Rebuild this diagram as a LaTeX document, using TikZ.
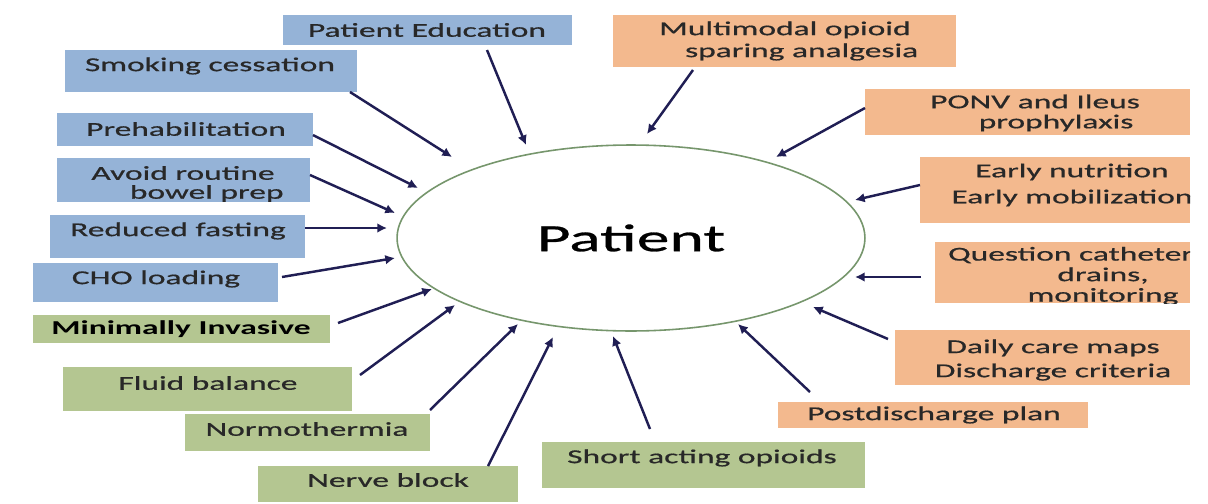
\documentclass[tikz,border=0pt]{standalone}
\usepackage{fontspec}
\setmainfont{Carlito}[FakeStretch=1.7, UprightFeatures={FakeBold=0.7}]
\usetikzlibrary{shapes.geometric,arrows.meta,fit}
\definecolor{bluefill}{RGB}{149,179,215}
\definecolor{greenfill}{RGB}{180,198,145}
\definecolor{orangefill}{RGB}{243,185,142}
\definecolor{arrowcol}{RGB}{32,30,84}
\definecolor{ringcol}{RGB}{118,150,108}
\definecolor{txtcol}{RGB}{40,40,40}
\tikzset{
  bx/.style={inner sep=0pt, outer sep=0pt, draw=none},
  bbox/.style={bx, fill=bluefill},
  gbox/.style={bx, fill=greenfill},
  obox/.style={bx, fill=orangefill},
  lbl/.style={inner sep=0pt, text=txtcol, align=center, font=\fontsize{11.2}{11.5}\selectfont},
  arr/.style={draw=arrowcol, line width=1.4pt, -{Latex[length=5.5pt,width=5.5pt]}},
}
\begin{document}
\begin{tikzpicture}[x=0.02cm, y=-0.02cm]
\useasboundingbox (0,0) rectangle (1208,504);
\fill[white] (0,0) rectangle (1208,504);

% central ellipse
\node[ellipse, draw=ringcol, line width=0.9pt, minimum width=9.36cm, minimum height=3.72cm, inner sep=0pt,
      font=\fontsize{22}{26}\selectfont, text=black] (pat) at (631,238) {Patient};

% blue boxes
\node[bbox, fit={(283,15) (572,45)}] (pe) {};
\node[lbl] (pe-t) at (427,30) {Patient Education};
\node[bbox, fit={(65,50) (357,92)}] (sm) {};
\node[lbl] (sm-t) at (210,66) {Smoking cessation};
\node[bbox, fit={(57,113) (313,146)}] (pr) {};
\node[lbl] (pr-t) at (186,129) {Prehabilitation};
\node[bbox, fit={(57,158) (310,202)}] (av) {};
\node[lbl, font=\fontsize{11.2}{10.8}\selectfont] (av-t) at (183,184) {Avoid routine\\\hspace*{27pt}bowel prep};
\node[bbox, fit={(50,215) (305,258)}] (rf) {};
\node[lbl] (rf-t) at (178,231) {Reduced fasting};
\node[bbox, fit={(33,263) (278,302)}] (cho) {};
\node[lbl] (cho-t) at (156,279) {CHO loading};

% green boxes
\node[gbox, fit={(33,315) (330,343)}] (mi) {};
\node[lbl, text=black, font=\fontsize{11.2}{11.5}\selectfont\bfseries] (mi-t) at (181,329) {Minimally Invasive};
\node[gbox, fit={(63,367) (352,411)}] (fb) {};
\node[lbl] (fb-t) at (208,383) {Fluid balance};
\node[gbox, fit={(185,414) (430,451)}] (nt) {};
\node[lbl] (nt-t) at (307,429) {Normothermia};
\node[gbox, fit={(258,466) (518,502)}] (nb) {};
\node[lbl] (nb-t) at (388,480) {Nerve block};
\node[gbox, fit={(542,442) (865,488)}] (sa) {};
\node[lbl] (sa-t) at (702,458) {Short acting opioids};

% orange boxes
\node[obox, fit={(613,15) (956,67)}] (mm) {};
\node[lbl, font=\fontsize{11.2}{12.5}\selectfont] (mm-t) at (785,41) {Multimodal opioid\\\hspace*{19pt}sparing analgesia};
\node[obox, fit={(865,89) (1190,135)}] (po) {};
\node[lbl, font=\fontsize{11.2}{11.4}\selectfont] (po-t) at (1035,113) {PONV and Ileus\\\hspace*{24pt}prophylaxis};
\node[obox, fit={(920,157) (1190,223)}] (en) {};
\begin{scope}
  \clip (en.south west) rectangle (en.north east);
  \node[lbl, font=\fontsize{11.2}{14.8}\selectfont] (en-t) at (1072,185) {Early nutrition\\Early mobilization};
\end{scope}
\node[obox, fit={(935,242) (1190,303)}] (qc) {};
\begin{scope}
  \clip (qc.south west) rectangle (qc.north east);
  \node[lbl, font=\fontsize{11.2}{11.7}\selectfont] (qc-t) at (1103,276) {Question catheters,\hspace*{25pt}\\drains,\\monitoring};
\end{scope}
\node[obox, fit={(895,330) (1190,385)}] (dc) {};
\node[lbl, font=\fontsize{11.2}{13.7}\selectfont] (dc-t) at (1053,360) {Daily care maps\\Discharge criteria};
\node[obox, fit={(778,402) (1088,428)}] (pd) {};
\node[lbl] (pd-t) at (934,415) {Postdischarge plan};

% arrow end points
\coordinate (pe-s) at (487,50);   \coordinate (pe-e) at (526,145);
\coordinate (sm-s) at (350,92);   \coordinate (sm-e) at (452,157);
\coordinate (pr-s) at (313,135);  \coordinate (pr-e) at (418,188);
\coordinate (av-s) at (310,175);  \coordinate (av-e) at (395,213);
\coordinate (rf-s) at (305,228);  \coordinate (rf-e) at (387,228);
\coordinate (cho-s) at (282,277); \coordinate (cho-e) at (395,258);
\coordinate (mi-s) at (338,323);  \coordinate (mi-e) at (432,289);
\coordinate (fb-s) at (360,375);  \coordinate (fb-e) at (455,305);
\coordinate (nt-s) at (430,410);  \coordinate (nt-e) at (518,324);
\coordinate (nb-s) at (488,466);  \coordinate (nb-e) at (553,337);
\coordinate (sa-s) at (650,429);  \coordinate (sa-e) at (613,336);
\coordinate (pd-s) at (810,392);  \coordinate (pd-e) at (738,324);
\coordinate (dc-s) at (888,339);  \coordinate (dc-e) at (813,307);
\coordinate (qc-s) at (921,277);  \coordinate (qc-e) at (855,277);
\coordinate (en-s) at (920,185);  \coordinate (en-e) at (855,200);
\coordinate (po-s) at (865,108);  \coordinate (po-e) at (776,157);
\coordinate (mm-s) at (693,70);   \coordinate (mm-e) at (647,134);

\foreach \k in {pe,sm,pr,av,rf,cho,mi,fb,nt,nb,sa,pd,dc,qc,en,po,mm}
  \draw[arr] (\k-s) -- (\k-e);
\end{tikzpicture}
\end{document}
